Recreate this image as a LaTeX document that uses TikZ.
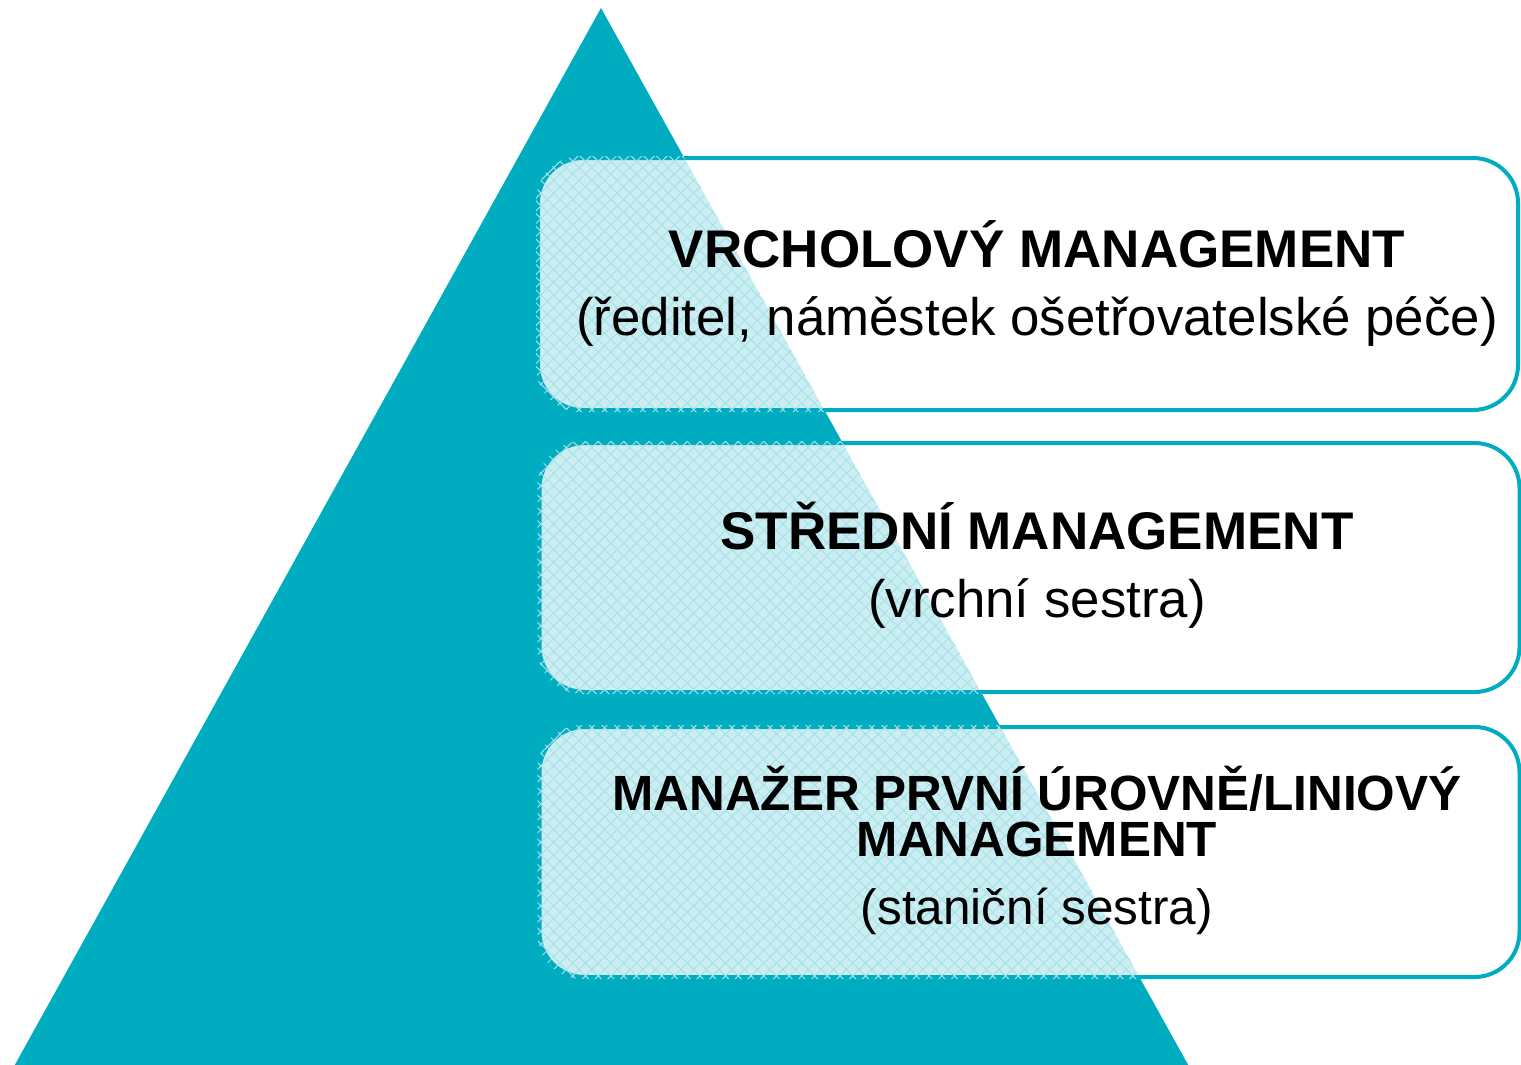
\documentclass[tikz,border=0pt]{standalone}
\usepackage{fontspec}
\setmainfont{Liberation Sans}
\usetikzlibrary{patterns.meta}
\definecolor{pyr}{RGB}{0,173,192}

\begin{document}
\begin{tikzpicture}[x=1pt,y=-1pt]
\tikzstyle{level}=[rectangle,draw=pyr,line width=4pt,fill=white,fill opacity=0.8,rounded corners=45pt,minimum width=980pt]
\tikzstyle{head}=[font=\fontsize{53}{46}\selectfont\bfseries,anchor=base,inner sep=0pt]
\tikzstyle{sub}=[font=\fontsize{52.8}{60}\selectfont,anchor=base,inner sep=0pt]
\tikzstyle{head small}=[head,font=\fontsize{49.5}{46}\selectfont\bfseries]
\tikzstyle{sub small}=[sub,font=\fontsize{49.5}{46}\selectfont]

\useasboundingbox (0,0) rectangle (1521,1065);
\fill[pyr] (601,8) -- (1191,1070) -- (12,1070) -- cycle;

\node[level,minimum height=252pt] (L1) at (1028,284) {};
\node[level,minimum height=249pt] (L2) at (1029.5,567.5) {};
\node[level,minimum height=250pt] (L3) at (1029.5,852) {};

% texture where the boxes lie over the pyramid
\foreach \b in {L1,L2,L3}{
  \begin{scope}
    \clip (601,8) -- (1191,1070) -- (12,1070) -- cycle;
    \fill[rounded corners=45pt,pattern={Lines[angle=45,distance=9pt,line width=1pt]},pattern color=pyr!35]
      (\b.south west) rectangle (\b.north east);
    \fill[rounded corners=45pt,pattern={Lines[angle=-45,distance=9pt,line width=1pt]},pattern color=pyr!35]
      (\b.south west) rectangle (\b.north east);
  \end{scope}
}

\node[head] (L1 head) at (1037,267) {VRCHOLOVÝ MANAGEMENT};
\node[sub] (L1 sub) at (1037,335) {(ředitel, náměstek ošetřovatelské péče)};
\node[head] (L2 head) at (1037,549) {STŘEDNÍ MANAGEMENT};
\node[sub] (L2 sub) at (1037,617) {(vrchní sestra)};
\node[head small,align=center,anchor=south] (L3 head) at (1037,857) {MANAŽER PRVNÍ ÚROVNĚ/LINIOVÝ\\MANAGEMENT};
\node[sub small] (L3 sub) at (1037,924) {(staniční sestra)};
\end{tikzpicture}
\end{document}
